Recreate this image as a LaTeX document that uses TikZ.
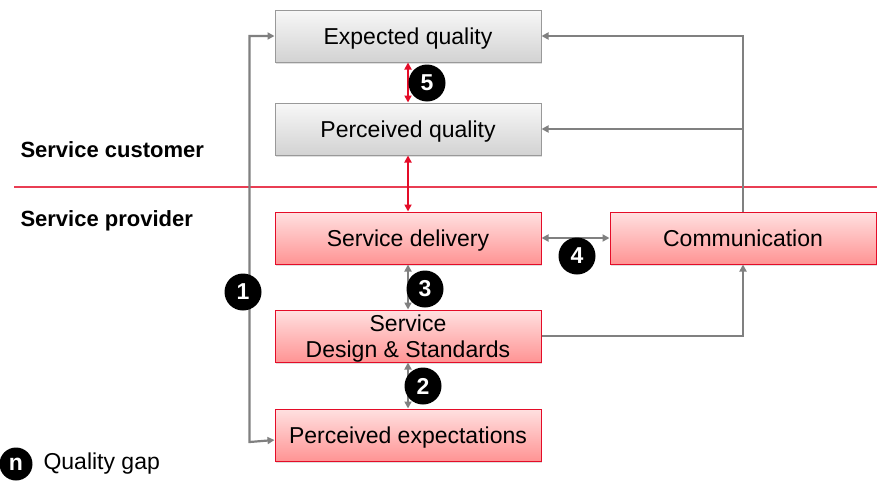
\documentclass[tikz,border=0pt]{standalone}
\usepackage{fontspec}
\setmainfont{Liberation Sans}
\usetikzlibrary{arrows.meta,shadows}
\definecolor{gapred}{RGB}{228,12,40}
\definecolor{linegray}{RGB}{128,128,128}

\begin{document}
\begin{tikzpicture}[x=1pt,y=-1pt,
    font=\fontsize{23}{26}\selectfont,
    box/.style={draw,line width=1pt,minimum width=266pt,minimum height=52pt,inner sep=0pt,align=center,
      text depth=0pt,drop shadow={shadow xshift=1pt,shadow yshift=-1.5pt,opacity=.25}},
    custbox/.style={box,draw=gray!80,top color=gray!6,bottom color=gray!35},
    provbox/.style={box,draw=gapred,top color=red!12,bottom color=red!42},
    conn/.style={draw=linegray,line width=2.2pt,-{Triangle[length=7pt,width=7pt]}},
    gap/.style={conn,{Triangle[length=7pt,width=7pt]}-{Triangle[length=7pt,width=7pt]}},
    redgap/.style={gap,draw=gapred},
    badge/.style={circle,fill=black,text=white,inner sep=0pt,minimum size=37pt,font=\fontsize{23}{23}\selectfont\bfseries}]
    \useasboundingbox (0,0) rectangle (883,482);

    \node[custbox] (expq) at (408,36) {Expected quality};
    \node[custbox] (percq) at (408,129) {Perceived quality};
    \node[provbox] (deliv) at (408,238) {Service delivery};
    \node[provbox] (design) at (408,336) {Service\\Design \& Standards};
    \node[provbox] (percexp) at (408,435) {Perceived expectations};
    \node[provbox] (comm) at (743,238) {Communication};

    \draw[draw=gapred!80,line width=1.2pt] (14,187) -- (877,187);
    \node[anchor=west,font=\fontsize{22}{25}\selectfont\bfseries] (cust) at (17,150) {Service customer};
    \node[anchor=west,font=\fontsize{22}{25}\selectfont\bfseries] (prov) at (17,221) {Service provider};

    % gap 1
    \draw[gap] ([yshift=-5pt]percexp.west) -- ++(-25,2) |- (expq.west);
    % communication
    \coordinate (up) at (743,36);
    \draw[conn] (comm.north) -- (up) -- (expq.east);
    \draw[conn] (comm.north |- percq.east) -- (percq.east);
    \draw[conn] (design.east) -| (comm.south);

    % gaps
    \draw[redgap] (expq) -- (percq);
    \draw[redgap] (percq) -- (deliv);
    \draw[gap] (deliv) -- (design);
    \draw[gap] (design) -- (percexp);
    \draw[gap] (deliv) -- (comm);

    \foreach \n/\x/\y in {1/243/292, 5/427/83, 3/425/289, 2/423/386, 4/577/256}
      \node[badge] (gap\n) at (\x,\y) {\n};

    \node[badge,minimum size=33pt] (key) at (16,464) {n};
    \node[anchor=west] (keytext) at (40,464) {Quality gap};
  \end{tikzpicture}
\end{document}
